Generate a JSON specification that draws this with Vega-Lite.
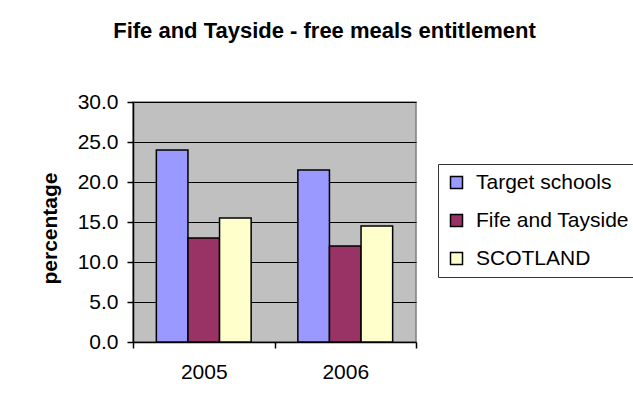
{
  "$schema": "https://vega.github.io/schema/vega-lite/v6.json",
  "width": 283,
  "height": 240,
  "autosize": "none",
  "padding": {"left": 133, "top": 102, "right": 217, "bottom": 72},
  "background": "white",
  "title": {
    "text": "Fife and Tayside - free meals entitlement",
    "fontSize": 22,
    "fontWeight": "bold",
    "color": "black",
    "anchor": "middle",
    "baseline": "alphabetic",
    "dx": 50,
    "offset": 31,
    "limit": 0
  },
  "data": {
    "values": [
      {"year": "2005", "series": "Target schools", "value": 24.0},
      {"year": "2005", "series": "Fife and Tayside", "value": 13.0},
      {"year": "2005", "series": "SCOTLAND", "value": 15.5},
      {"year": "2006", "series": "Target schools", "value": 21.5},
      {"year": "2006", "series": "Fife and Tayside", "value": 12.0},
      {"year": "2006", "series": "SCOTLAND", "value": 14.5}
    ]
  },
  "mark": {"type": "bar", "stroke": "black", "strokeWidth": 1.5},
  "encoding": {
    "x": {
      "field": "year",
      "type": "nominal",
      "scale": {"paddingInner": 0, "paddingOuter": 0},
      "axis": {
        "title": null,
        "labelAngle": 0,
        "labelFontSize": 21,
        "labelColor": "black",
        "labelPadding": 13,
        "tickBand": "extent",
        "tickSize": 6,
        "tickColor": "black",
        "tickWidth": 1.5,
        "domainColor": "black",
        "domainWidth": 1.5,
        "grid": false
      }
    },
    "xOffset": {
      "field": "series",
      "sort": ["Target schools", "Fife and Tayside", "SCOTLAND"],
      "scale": {"paddingInner": 0, "paddingOuter": 0.739}
    },
    "y": {
      "field": "value",
      "type": "quantitative",
      "scale": {"domain": [0, 30], "nice": false},
      "axis": {
        "title": "percentage",
        "titleFontSize": 21,
        "titleFontWeight": "bold",
        "titleColor": "black",
        "titlePadding": 17,
        "titleY": 126,
        "values": [0, 5, 10, 15, 20, 25, 30],
        "format": ".1f",
        "labelFontSize": 21,
        "labelColor": "black",
        "labelPadding": 9,
        "tickSize": 6,
        "tickColor": "black",
        "tickWidth": 1.5,
        "domainColor": "black",
        "domainWidth": 1.5,
        "grid": true,
        "gridColor": "black",
        "gridWidth": 1
      }
    },
    "color": {
      "field": "series",
      "type": "nominal",
      "sort": ["Target schools", "Fife and Tayside", "SCOTLAND"],
      "scale": {
        "domain": ["Target schools", "Fife and Tayside", "SCOTLAND"],
        "range": ["#9999FF", "#993366", "#FFFFCC"]
      },
      "legend": {
        "title": null,
        "orient": "none",
        "legendX": 305,
        "legendY": 62,
        "strokeColor": "#333333",
        "fillColor": "white",
        "padding": 8,
        "symbolType": "square",
        "symbolSize": 144,
        "symbolStrokeColor": "black",
        "symbolStrokeWidth": 1.5,
        "symbolOpacity": 1,
        "labelFontSize": 21,
        "labelColor": "black",
        "labelOffset": 9,
        "labelLimit": 400,
        "rowPadding": 16
      }
    }
  },
  "config": {
    "font": "Liberation Sans",
    "view": {"fill": "#C0C0C0", "stroke": "#808080", "strokeWidth": 1.5}
  }
}
